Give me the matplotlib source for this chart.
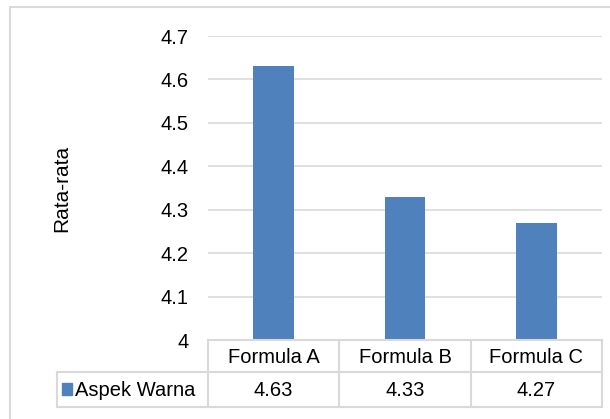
import matplotlib.pyplot as plt
from matplotlib.transforms import blended_transform_factory
from matplotlib.patches import Rectangle
from matplotlib.lines import Line2D

categories = ['Formula A', 'Formula B', 'Formula C']
values = [4.63, 4.33, 4.27]
series_name = 'Aspek Warna'
y_ticks = [4, 4.1, 4.2, 4.3, 4.4, 4.5, 4.6, 4.7]
y_tick_labels = ['4', '4.1', '4.2', '4.3', '4.4', '4.5', '4.6', '4.7']

W, H = 610, 419
bar_color = '#4f81bd'
grid_color = '#d9d9d9'
plt.rcParams['font.family'] = ['Liberation Sans', 'DejaVu Sans']

fig = plt.figure(figsize=(W / 100, H / 100), dpi=100)

def fx(px):
    return px / W

def fy(py):
    return 1 - py / H

# plot area in pixel terms
left, right, top, bottom = 208, 602, 36, 340
ax = fig.add_axes([fx(left), fy(bottom), fx(right - left), (bottom - top) / H])

x = range(len(categories))
ax.bar(x, values, width=0.31, color=bar_color, zorder=3)
ax.set_xlim(-0.5, len(categories) - 0.5)
ax.set_ylim(4, 4.7)
ax.set_yticks(y_ticks)
ax.set_yticklabels(y_tick_labels, fontsize=14.5)
ax.set_xticks([])
ax.yaxis.grid(True, color=grid_color, linewidth=1.2, zorder=0)
ax.tick_params(axis='y', length=0, pad=14)
for s in ax.spines.values():
    s.set_visible(False)
ax.set_ylabel('Rata-rata', fontsize=15)
ax.yaxis.set_label_coords((71 - left) / (right - left), 0.5)

# data table under the plot
tr = blended_transform_factory(ax.transData, fig.transFigure)
edges = [i - 0.5 for i in range(len(categories) + 1)]
row_top, row_mid, row_bot = 340, 372, 407
for e in edges:
    fig.add_artist(Line2D([e, e], [fy(row_top), fy(row_bot)], transform=tr,
                          color=grid_color, lw=1.5))
for yy in (row_top, row_mid, row_bot):
    fig.add_artist(Line2D([edges[0], edges[-1]], [fy(yy), fy(yy)], transform=tr,
                          color=grid_color, lw=1.5))
leg_left = 57
for yy in (row_mid, row_bot):
    fig.add_artist(Line2D([fx(leg_left), fx(left)], [fy(yy), fy(yy)],
                          color=grid_color, lw=1.5))
fig.add_artist(Line2D([fx(leg_left), fx(leg_left)], [fy(row_mid), fy(row_bot)],
                      color=grid_color, lw=1.5))

for i, (c, v) in enumerate(zip(categories, values)):
    fig.text(i, fy((row_top + row_mid) / 2 + 1), c, transform=tr,
             ha='center', va='center', fontsize=14.5)
    fig.text(i, fy((row_mid + row_bot) / 2 + 1), f'{v:.2f}', transform=tr,
             ha='center', va='center', fontsize=14.5)

fig.add_artist(Rectangle((fx(62), fy(395)), fx(10), 12 / H, color=bar_color))
fig.text(fx(75), fy((row_mid + row_bot) / 2 + 1), series_name,
         ha='left', va='center', fontsize=14.5)

# chart frame
fig.add_artist(Rectangle((fx(10), fy(H + 5)), fx(W), (H - 2) / H,
                         fill=False, edgecolor=grid_color, lw=1.5))

fig.savefig('out.png', dpi=100)
